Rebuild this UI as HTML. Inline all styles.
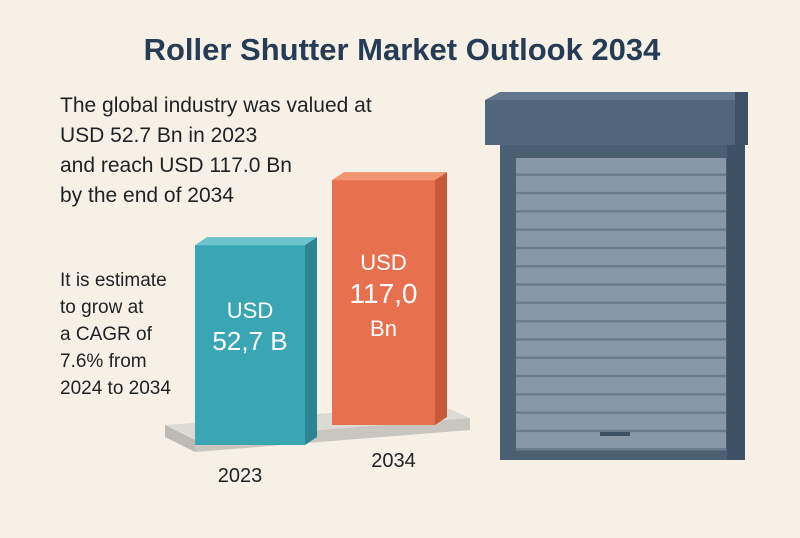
<!DOCTYPE html>
<html><head><meta charset="utf-8"><style>
body{margin:0;width:800px;height:533px;overflow:hidden;background:#f6f0e7;font-family:"Liberation Sans",sans-serif}
</style></head><body>
<svg id="c" width="800" height="533" viewBox="0 0 800 533" xmlns="http://www.w3.org/2000/svg">
<rect width="800" height="533" fill="#f6f0e7"/>
<text x="402" y="60" text-anchor="middle" font-size="31" font-weight="bold" fill="#263b54">Roller Shutter Market Outlook 2034</text>
<g font-size="21" fill="#1f2224">
<text x="60" y="112">The global industry was valued at</text>
<text x="60" y="142">USD 52.7 Bn in 2023</text>
<text x="60" y="172">and reach USD 117.0 Bn</text>
<text x="60" y="202">by the end of 2034</text>
</g>
<g font-size="19" fill="#1f2224">
<text x="60" y="286">It is estimate</text>
<text x="60" y="313">to grow at</text>
<text x="60" y="340">a CAGR of</text>
<text x="60" y="367">7.6% from</text>
<text x="60" y="394">2024 to 2034</text>
</g>
<g>
<polygon points="165,425 440,405 470,418 195,440" fill="#dcdad4"/>
<polygon points="165,425 195,440 195,452 165,437" fill="#bdbab3"/>
<polygon points="195,440 470,418 470,430 195,452" fill="#c9c6bf"/>
</g>
<g id="bars"></g>
<g>
<polygon points="485,100 500,92 748,92 735,100" fill="#62778c"/>
<rect x="485" y="100" width="250" height="45" fill="#526679"/>
<rect x="735" y="92" width="13" height="53" fill="#3f5163"/>
<rect x="500" y="145" width="235" height="315" fill="#4b5f73"/>
<rect x="727" y="145" width="18" height="315" fill="#3e5063"/>
<rect x="516" y="158" width="210" height="292" fill="#8898a8"/>
<g id="slats"></g>
<rect x="600" y="432" width="30" height="4" fill="#3e5063"/>
</g>
</svg>
<script>
const categories=["2023","2034"];
const values=[52.7,117.0];
const valueLabels=[["USD","52,7 B"],["USD","117,0","Bn"]];
const baseY=[445,425];
function yScale(v){return 163+0.7*v;}
const ns="http://www.w3.org/2000/svg";
const g=document.getElementById("bars");
const specs=[{x:195,w:110,front:"#3aa5b3",top:"#6cc3cc",side:"#2c8593"},{x:332,w:103,front:"#e7714f",top:"#f2946f",side:"#c9583a"}];
function el(t,a){const e=document.createElementNS(ns,t);for(const k in a)e.setAttribute(k,a[k]);return e;}
values.forEach((v,i)=>{
 const s=specs[i],h=yScale(v),b=baseY[i],t=b-h;
 const grp=el("g",{});
 
 
 grp.appendChild(el("polygon",{points:`${s.x},${t} ${s.x+12},${t-8} ${s.x+s.w+12},${t-8} ${s.x+s.w},${t}`,fill:s.top}));
 grp.appendChild(el("polygon",{points:`${s.x+s.w},${t} ${s.x+s.w+12},${t-8} ${s.x+s.w+12},${b-8} ${s.x+s.w},${b}`,fill:s.side}));
 grp.appendChild(el("rect",{x:s.x,y:t,width:s.w,height:h,fill:s.front}));
 const lines=valueLabels[i];
 lines.forEach((ln,j)=>{
  const tx=el("text",{x:s.x+s.w/2,y:(i==0?t+73:t+90)+j*(i==0?32:33),"text-anchor":"middle","font-size":i==0?(j==0?22:26):(j==1?28:22),fill:"#fff"});
  tx.textContent=ln;
  
  
  grp.appendChild(tx);
 });
 const lab=el("text",{x:s.x+s.w/2+(i==0?-10:10),y:i==0?482:467,"text-anchor":"middle","font-size":20,fill:"#1f2224"});
 lab.textContent=categories[i];
 
 
 g.appendChild(grp);g.appendChild(lab);
});
const sl=document.getElementById("slats");
for(let y=158;y<450;y+=18.3){
 const r=el("rect",{x:516,y:y+15.5,width:210,height:2.5,fill:"#6b7c8e"});
 
 
 sl.appendChild(r);
}
</script>
</body></html>
